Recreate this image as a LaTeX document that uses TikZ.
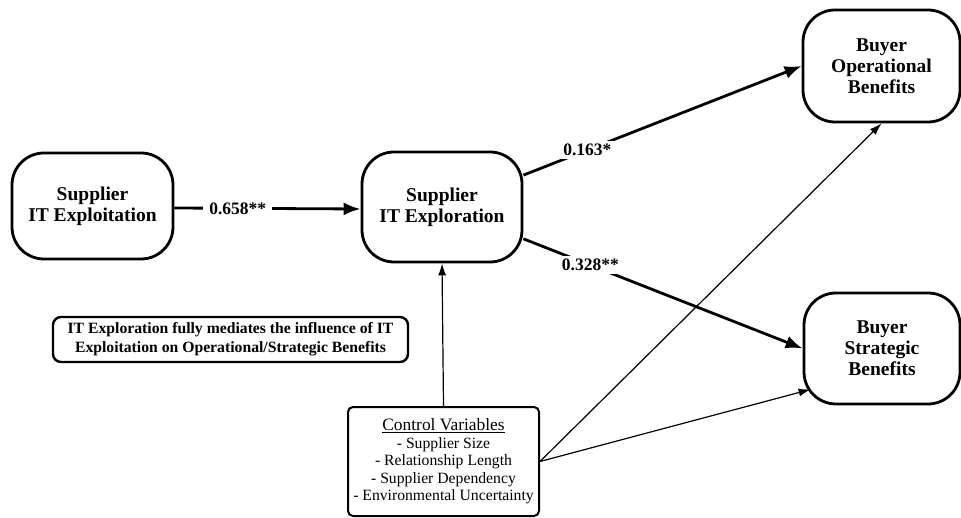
\documentclass[tikz,border=0pt]{standalone}
\usepackage{fontspec}
\setmainfont{Liberation Serif}
\usetikzlibrary{arrows.meta,calc}
\begin{document}
\begin{tikzpicture}[x=1pt,y=-1pt,
  bigbox/.style={draw,line width=2.8pt,rounded corners=32pt,inner sep=0pt,align=center,
    font=\fontsize{19.5}{21}\selectfont\bfseries},
  notebox/.style={draw,line width=2.4pt,rounded corners=8pt,inner sep=0pt,align=center,
    font=\fontsize{15.7}{19}\selectfont\bfseries},
  ctrlbox/.style={draw,line width=2pt,rounded corners=5pt,inner sep=0pt,align=center,
    font=\fontsize{15.7}{17.5}\selectfont},
  thick arrow/.style={line width=2.8pt,-{Latex[length=17pt,width=13pt]}},
  thin arrow/.style={line width=1.2pt,-{Latex[length=12pt,width=8pt]}},
  coef/.style={fill=white,inner xsep=6pt,inner ysep=3pt,font=\fontsize{17.5}{20}\selectfont\bfseries}
]
\useasboundingbox (0,0) rectangle (961,518);

\node[bigbox,minimum width=161pt,minimum height=106pt] (sexpt) at (92.5,206) {Supplier\\IT Exploitation};
\node[bigbox,minimum width=160pt,minimum height=110pt] (sexpr) at (442,207) {Supplier\\IT Exploration};
\node[bigbox,minimum width=157pt,minimum height=112pt] (bop) at (881.5,66) {Buyer\\Operational\\Benefits};
\node[bigbox,minimum width=156pt,minimum height=111pt] (bsb) at (882,348.5) {Buyer\\Strategic\\Benefits};
\node[notebox,minimum width=355pt,minimum height=45pt] (note) at (230.5,339.5) {IT Exploration fully mediates the influence of IT\\Exploitation on Operational/Strategic Benefits};
\node[ctrlbox,minimum width=191pt,minimum height=109pt] (ctrl) at (443.5,461.5) {{\fontsize{17.4}{19}\selectfont\underline{Control Variables}}\\- Supplier Size\\- Relationship Length\\- Supplier Dependency\\- Environmental Uncertainty};

\draw[thick arrow] ([yshift=-2pt]sexpt.east) -- node[coef,pos=0.34] {0.658**} ([yshift=-2pt]sexpr.west);
\draw[thick arrow] (sexpr) -- node[coef,pos=0.23] {0.163*} (bop.west);
\draw[thick arrow] (sexpr) -- node[coef,pos=0.24] {0.328**} (bsb.west);

\draw[thin arrow] (ctrl.north) -- (sexpr.south);
\draw[thin arrow] (ctrl.east) -- (bop.south);
\draw[thin arrow] (ctrl.east) -- ($(bsb.south west)+(8,-16)$);
\end{tikzpicture}
\end{document}
